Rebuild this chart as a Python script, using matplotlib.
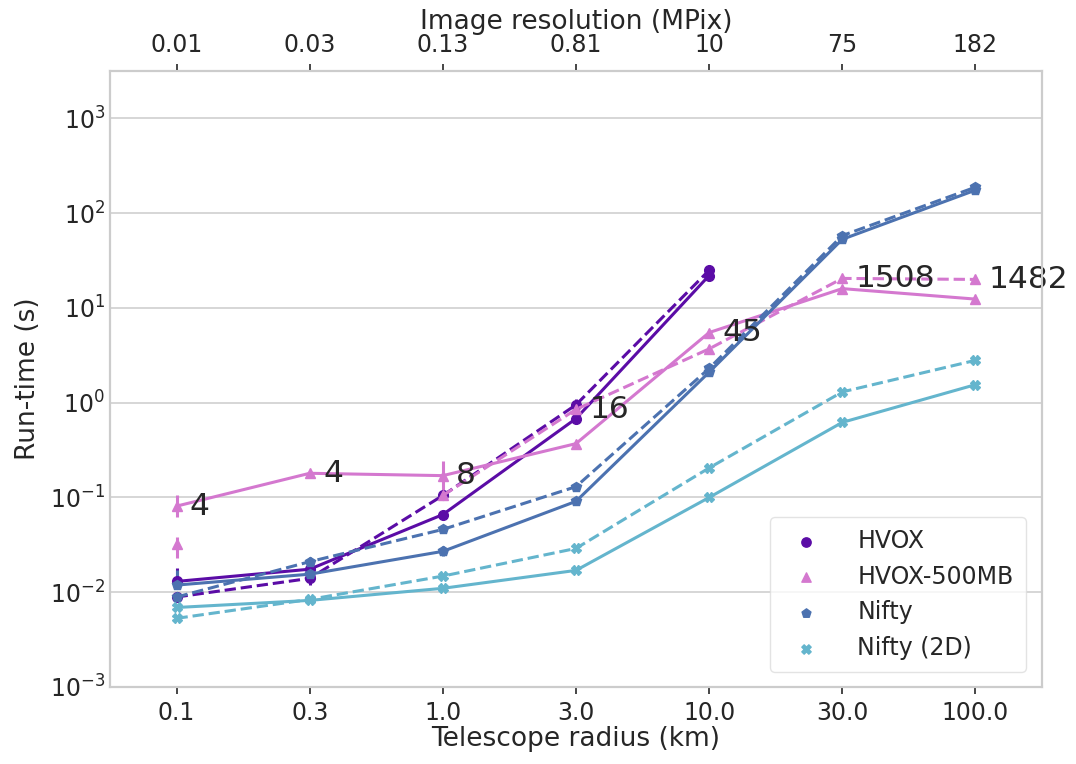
import numpy as np
import matplotlib
matplotlib.use("Agg")
import matplotlib.pyplot as plt
import seaborn as sns

sns.set_theme(style="whitegrid")
plt.rcParams['font.family'] = ['DejaVu Sans']

radius_labels = ["0.1", "0.3", "1.0", "3.0", "10.0", "30.0", "100.0"]
mpix_labels = ["0.01", "0.03", "0.13", "0.81", "10", "75", "182"]
annot_labels = ["4", "4", "8", "16", "45", "1508", "1482"]

nan = np.nan
hvox_solid = [0.0130, 0.0175, 0.066, 0.68, 22.0, nan, nan]
hvox_dashed = [0.0089, 0.0140, 0.105, 0.95, 25.0, nan, nan]
hvox_solid_lo = [0.0125, 0.0170, 0.064, 0.60, 21.0, nan, nan]
hvox_solid_hi = [0.0180, 0.0180, 0.068, 0.75, 23.0, nan, nan]
hvox_dashed_lo = [0.0085, 0.0120, 0.100, 0.85, 24.0, nan, nan]
hvox_dashed_hi = [0.0095, 0.0175, 0.110, 1.10, 26.0, nan, nan]

h500_solid = [0.081, 0.180, 0.170, 0.37, 5.5, 16.0, 12.4]
h500_dashed = [0.032, nan, 0.105, 0.85, 3.7, 20.5, 20.0]
h500_solid_lo = [0.062, 0.175, 0.110, 0.35, 5.3, 15.5, 12.0]
h500_solid_hi = [0.105, 0.185, 0.240, 0.39, 5.7, 16.5, 12.8]
h500_dashed_lo = [0.023, nan, 0.100, 0.75, 3.5, 19.5, 19.5]
h500_dashed_hi = [0.038, nan, 0.110, 0.95, 3.9, 21.5, 20.5]

nifty_solid = [0.0119, 0.0155, 0.027, 0.091, 2.1, 53.0, 175.0]
nifty_dashed = [0.0089, 0.0210, 0.046, 0.130, 2.3, 58.0, 188.0]
nifty_solid_lo = [0.0110, 0.0145, 0.024, 0.088, 2.0, 51.0, 170.0]
nifty_solid_hi = [0.0170, 0.0165, 0.031, 0.094, 2.2, 55.0, 180.0]
nifty_dashed_lo = [0.0085, 0.0190, 0.044, 0.125, 2.2, 56.0, 183.0]
nifty_dashed_hi = [0.0093, 0.0235, 0.048, 0.135, 2.4, 60.0, 193.0]

nifty2d_solid = [0.0069, 0.0082, 0.0110, 0.017, 0.100, 0.62, 1.55]
nifty2d_dashed = [0.0053, 0.0084, 0.0148, 0.029, 0.205, 1.30, 2.80]

series = [
    ("HVOX", "#5b0ca6", "o", hvox_solid, hvox_dashed,
     (hvox_solid_lo, hvox_solid_hi), (hvox_dashed_lo, hvox_dashed_hi), 7),
    ("HVOX-500MB", "#d478cf", "^", h500_solid, h500_dashed,
     (h500_solid_lo, h500_solid_hi), (h500_dashed_lo, h500_dashed_hi), 7),
    ("Nifty", "#4c72b0", "p", nifty_solid, nifty_dashed,
     (nifty_solid_lo, nifty_solid_hi), (nifty_dashed_lo, nifty_dashed_hi), 7),
    ("Nifty (2D)", "#64b5cd", "X", nifty2d_solid, nifty2d_dashed,
     None, None, 7),
]

fig = plt.figure(figsize=(10.76, 7.64), dpi=100)
ax = fig.add_axes([0.1022, 0.1008, 0.8662, 0.8062])
x = np.arange(len(radius_labels))

for name, col, mk, solid, dashed, err_s, err_d, ms in series:
    s = np.array(solid, dtype=float)
    d = np.array(dashed, dtype=float)
    if err_s is not None:
        lo, hi = np.array(err_s[0]), np.array(err_s[1])
        ax.errorbar(x, s, yerr=[s - lo, hi - s], fmt='none', ecolor=col,
                    elinewidth=2.2, capsize=0, zorder=2)
    if err_d is not None:
        lo, hi = np.array(err_d[0]), np.array(err_d[1])
        eb = ax.errorbar(x, d, yerr=[d - lo, hi - d], fmt='none', ecolor=col,
                         elinewidth=2.2, capsize=0, zorder=2)
        for c in eb.lines[2]:
            c.set_linestyle('--')
    ax.plot(x, s, color=col, marker=mk, markersize=ms, linewidth=2.2,
            linestyle='-', zorder=3)
    ax.plot(x, d, color=col, marker=mk, markersize=ms, linewidth=2.2,
            linestyle='--', zorder=3)
    ax.scatter([], [], color=col, marker=mk, s=45, label=name)

for i, lab in enumerate(annot_labels):
    yv = np.nanmax([h500_solid[i], h500_dashed[i]])
    if i in (2, 3):
        yv = h500_solid[i] if i == 2 else 0.85
    ax.text(x[i] + 0.1, yv, lab, fontsize=22.5, ha='left', va='center',
            color='#262626', zorder=5)

ax.set_yscale('log')
ax.set_ylim(10 ** -3, 10 ** 3.5)
ax.set_xlim(-0.5, 6.5)
ax.set_xticks(x)
ax.set_xticklabels(radius_labels, fontsize=17)
ax.set_yticks([1e-3, 1e-2, 1e-1, 1e0, 1e1, 1e2, 1e3])
ax.tick_params(axis='y', labelsize=17, length=0)
ax.yaxis.set_minor_locator(matplotlib.ticker.NullLocator())
ax.tick_params(axis='x', bottom=True, length=5, width=1.2, color='#262626',
               direction='out', pad=5)
ax.grid(axis='x', visible=False)
ax.grid(axis='y', color='#d0d0d0', linewidth=1.2)
ax.set_xlabel("Telescope radius (km)", fontsize=19, labelpad=1)
ax.set_ylabel("Run-time (s)", fontsize=19, labelpad=6)
for sp in ax.spines.values():
    sp.set_color('#cccccc')
    sp.set_linewidth(1.5)

ax2 = ax.twiny()
ax2.set_xlim(ax.get_xlim())
ax2.set_xticks(x)
ax2.set_xticklabels(mpix_labels, fontsize=17)
ax2.tick_params(axis='x', top=True, length=5, width=1.2, color='#262626',
                direction='out', pad=5)
ax2.grid(False)
ax2.set_xlabel("Image resolution (MPix)", fontsize=19, labelpad=3)
for sp in ax2.spines.values():
    sp.set_color('#cccccc')
    sp.set_linewidth(1.5)

leg = ax.legend(loc='lower right', fontsize=17, frameon=True, framealpha=0.8,
                borderpad=0.5, labelspacing=0.5, handletextpad=1.2,
                markerscale=1.0, bbox_to_anchor=(0.995, 0.005))
leg.get_frame().set_edgecolor('#dddddd')

fig.savefig("out.png", dpi=100)
